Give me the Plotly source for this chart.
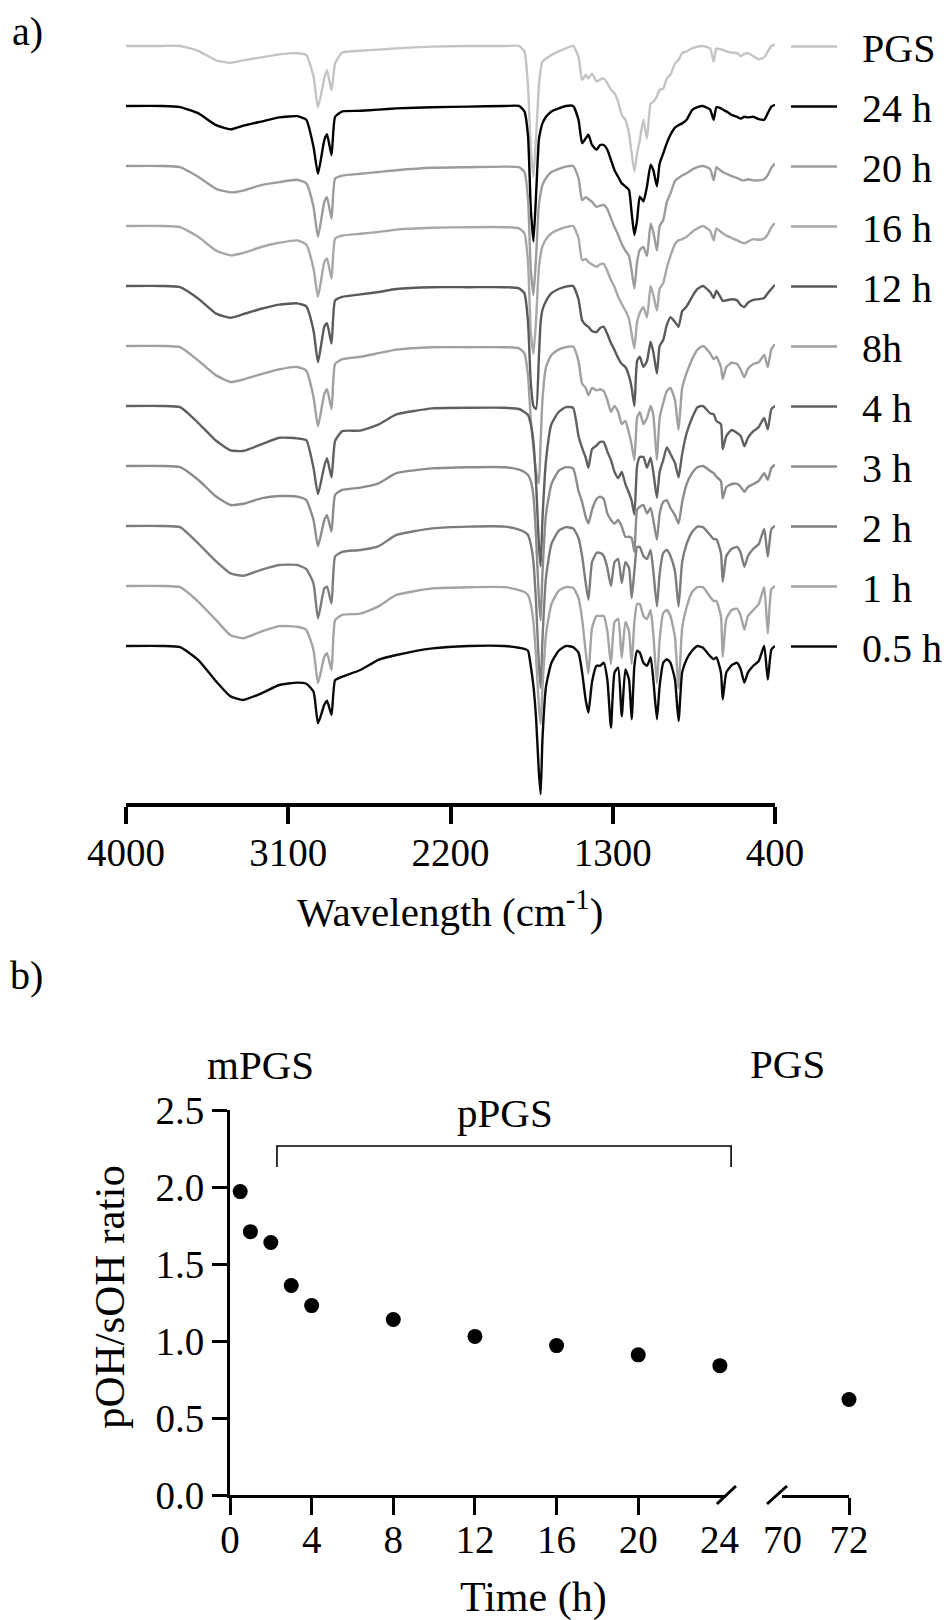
import plotly.graph_objects as go

W, H = 947, 1620
FONT = "Liberation Serif"

# ---------------- data: panel a (FTIR spectra, relative transmittance units) -------------
WAVENUMBER = [4000, 3800, 3700, 3600, 3500, 3420, 3350, 3250, 3150, 3050,
              3000, 2960, 2935, 2900, 2885, 2860, 2840, 2800, 2700, 2600,
              2500, 2300, 2100, 1900, 1820, 1790, 1770,
              1755, 1740, 1725, 1710, 1700, 1690, 1670, 1640, 1600, 1560,
              1520, 1490, 1470, 1450, 1435, 1415, 1390, 1370, 1350, 1330,
              1310, 1290, 1270, 1250, 1230, 1210, 1195, 1180, 1165, 1150,
              1130, 1110, 1090, 1075, 1055, 1040, 1020, 1000, 980, 955,
              935, 915, 890, 860, 830, 800, 760, 740, 725, 700,
              690, 670, 640, 610, 590, 570, 550, 520, 490, 460,
              440, 420, 400]

SAMPLES = ["PGS", "24 h", "20 h", "16 h", "12 h", "8h", "4 h", "3 h", "2 h", "1 h", "0.5 h"]

PGS = [0, 0, 0, -0.08, -0.24, -0.28, -0.24, -0.19, -0.14, -0.12,
       -0.15, -0.51, -1.02, -0.54, -0.40, -0.74, -0.29, -0.11, -0.08, -0.06,
       -0.04, -0.01, 0, 0, 0, -0.09, -0.68,
       -1.68, -2.18, -1.51, -0.68, -0.40, -0.26, -0.21, -0.15, -0.09, -0.04,
       0, -0.18, -0.57, -0.48, -0.54, -0.46, -0.59, -0.56, -0.54, -0.62,
       -0.73, -0.79, -0.93, -1.15, -1.23, -1.46, -1.79, -2.09, -1.79, -1.57,
       -1.23, -1.54, -0.96, -0.93, -0.84, -0.73, -0.71, -0.54, -0.48, -0.29,
       -0.23, -0.12, -0.09, -0.04, -0.01, 0, -0.04, -0.26, -0.04, -0.06,
       -0.06, -0.09, -0.11, -0.12, -0.17, -0.13, -0.12, -0.17, -0.22, -0.19,
       -0.09, 0, 0.02]
H24 = [0, 0, -0.02, -0.12, -0.32, -0.39, -0.33, -0.26, -0.19, -0.17,
       -0.23, -0.68, -1.13, -0.57, -0.47, -0.82, -0.18, -0.09, -0.08, -0.06,
       -0.04, -0.02, -0.01, 0, 0, -0.09, -0.50,
       -1.68, -2.26, -1.46, -0.57, -0.40, -0.29, -0.18, -0.09, -0.04, 0,
       0, -0.23, -0.62, -0.54, -0.48, -0.65, -0.73, -0.65, -0.65, -0.73,
       -0.90, -1.07, -1.18, -1.29, -1.34, -1.40, -1.79, -2.15, -1.90, -1.51,
       -1.59, -1.34, -0.98, -1.07, -1.34, -0.96, -0.79, -0.62, -0.48, -0.36,
       -0.32, -0.29, -0.23, -0.07, -0.02, 0, -0.06, -0.23, -0.02, -0.04,
       -0.06, -0.09, -0.15, -0.18, -0.21, -0.18, -0.19, -0.18, -0.22, -0.23,
       -0.12, -0.01, 0.02]
H20 = [0, 0, -0.02, -0.18, -0.38, -0.44, -0.41, -0.32, -0.27, -0.23,
       -0.29, -0.68, -1.18, -0.60, -0.52, -0.88, -0.21, -0.16, -0.13, -0.10,
       -0.07, -0.03, -0.02, -0.01, -0.02, -0.10, -0.55,
       -1.70, -2.15, -1.50, -0.65, -0.45, -0.32, -0.20, -0.10, -0.05, -0.01,
       0, -0.20, -0.57, -0.52, -0.55, -0.60, -0.68, -0.66, -0.65, -0.72,
       -0.87, -1.02, -1.15, -1.30, -1.41, -1.50, -1.75, -2.04, -1.60, -1.40,
       -1.35, -1.50, -0.96, -1.10, -1.41, -1.00, -0.90, -0.60, -0.46, -0.25,
       -0.20, -0.16, -0.12, -0.06, -0.02, 0, -0.05, -0.24, -0.02, -0.08,
       -0.10, -0.13, -0.17, -0.20, -0.23, -0.24, -0.22, -0.24, -0.24, -0.22,
       -0.15, -0.03, 0.04]
H16 = [0, 0, -0.02, -0.18, -0.41, -0.49, -0.45, -0.35, -0.28, -0.24,
       -0.31, -0.71, -1.18, -0.60, -0.54, -0.88, -0.21, -0.16, -0.13, -0.10,
       -0.06, -0.03, -0.02, -0.02, -0.04, -0.12, -0.60,
       -1.75, -2.13, -1.55, -0.70, -0.48, -0.34, -0.22, -0.12, -0.06, -0.02,
       0, -0.20, -0.57, -0.55, -0.60, -0.64, -0.68, -0.64, -0.63, -0.75,
       -0.90, -1.02, -1.18, -1.30, -1.41, -1.55, -1.80, -2.04, -1.60, -1.45,
       -1.35, -1.52, -1.00, -1.15, -1.41, -1.05, -0.95, -0.70, -0.50, -0.30,
       -0.24, -0.22, -0.18, -0.10, -0.04, 0, -0.08, -0.24, -0.04, -0.10,
       -0.12, -0.16, -0.20, -0.24, -0.27, -0.29, -0.26, -0.22, -0.23, -0.21,
       -0.14, -0.02, 0.05]
H12 = [0, 0, -0.02, -0.21, -0.46, -0.53, -0.47, -0.38, -0.31, -0.29,
       -0.34, -0.74, -1.27, -0.68, -0.62, -0.96, -0.24, -0.18, -0.14, -0.10,
       -0.05, -0.02, -0.02, -0.02, -0.04, -0.12, -0.60,
       -1.60, -2.00, -2.05, -1.20, -0.60, -0.40, -0.25, -0.12, -0.05, -0.01,
       0, -0.22, -0.57, -0.65, -0.68, -0.75, -0.77, -0.70, -0.68, -0.80,
       -0.95, -1.07, -1.20, -1.30, -1.35, -1.50, -1.70, -2.00, -1.25, -1.18,
       -1.35, -1.25, -0.93, -1.10, -1.46, -1.00, -0.90, -0.65, -0.52, -0.60,
       -0.68, -0.42, -0.34, -0.18, -0.05, 0, -0.10, -0.20, -0.08, -0.20,
       -0.25, -0.24, -0.22, -0.24, -0.32, -0.35, -0.28, -0.23, -0.22, -0.20,
       -0.12, -0.05, 0.02]
H8 = [0, 0, -0.02, -0.24, -0.49, -0.60, -0.56, -0.47, -0.39, -0.35,
      -0.41, -0.85, -1.34, -0.80, -0.72, -1.05, -0.30, -0.22, -0.18, -0.12,
      -0.06, -0.02, -0.02, -0.02, -0.04, -0.12, -0.50,
      -1.20, -1.70, -2.10, -2.29, -1.60, -0.90, -0.35, -0.15, -0.06, -0.02,
      -0.01, -0.25, -0.63, -0.70, -0.82, -0.70, -0.74, -0.72, -0.75, -0.90,
      -1.10, -1.00, -1.10, -1.30, -1.25, -1.45, -1.65, -1.90, -1.20, -1.10,
      -1.30, -1.20, -1.00, -1.15, -1.90, -1.20, -0.95, -0.75, -0.70, -0.90,
      -1.40, -0.70, -0.45, -0.22, -0.06, 0, -0.12, -0.22, -0.18, -0.35,
      -0.55, -0.35, -0.28, -0.30, -0.40, -0.52, -0.38, -0.30, -0.27, -0.15,
      -0.35, -0.05, 0.03]
H4 = [0, 0, -0.02, -0.28, -0.58, -0.74, -0.75, -0.64, -0.53, -0.54,
      -0.57, -1.03, -1.47, -1.00, -0.87, -1.19, -0.58, -0.42, -0.41, -0.31,
      -0.14, -0.04, -0.03, -0.03, -0.05, -0.10, -0.15,
      -0.30, -0.60, -1.30, -2.30, -2.67, -1.90, -0.90, -0.30, -0.10, -0.02,
      -0.03, -0.50, -0.70, -0.86, -1.03, -0.72, -0.66, -0.60, -0.60, -0.76,
      -0.90, -1.10, -1.20, -1.10, -1.30, -1.45, -1.58, -1.81, -1.00, -0.85,
      -0.85, -1.03, -0.86, -1.10, -1.53, -1.10, -0.90, -0.69, -0.80, -0.95,
      -1.19, -0.80, -0.45, -0.20, -0.02, 0, -0.12, -0.14, -0.25, -0.30,
      -0.72, -0.50, -0.40, -0.45, -0.50, -0.67, -0.53, -0.42, -0.35, -0.20,
      -0.39, -0.05, 0]
H3 = [0, 0, -0.02, -0.23, -0.51, -0.65, -0.63, -0.54, -0.50, -0.51,
      -0.57, -0.90, -1.34, -0.90, -0.82, -1.09, -0.48, -0.40, -0.36, -0.29,
      -0.12, -0.04, -0.02, -0.02, -0.06, -0.10, -0.15,
      -0.25, -0.50, -1.20, -2.20, -2.57, -1.80, -0.80, -0.30, -0.08, -0.02,
      -0.04, -0.42, -0.60, -0.85, -0.96, -0.73, -0.55, -0.51, -0.55, -0.79,
      -0.90, -0.96, -0.90, -1.01, -1.18, -1.18, -1.20, -1.43, -0.73, -0.68,
      -0.65, -0.79, -0.70, -0.90, -1.23, -0.80, -0.60, -0.57, -0.70, -0.82,
      -0.96, -0.60, -0.30, -0.12, -0.02, 0, -0.08, -0.12, -0.18, -0.25,
      -0.54, -0.35, -0.30, -0.30, -0.35, -0.43, -0.35, -0.30, -0.25, -0.12,
      -0.23, -0.03, 0.02]
H2 = [0, 0, -0.02, -0.29, -0.59, -0.79, -0.83, -0.73, -0.65, -0.65,
      -0.72, -0.96, -1.54, -1.04, -1.01, -1.29, -0.51, -0.43, -0.40, -0.34,
      -0.15, -0.04, -0.01, -0.01, -0.06, -0.10, -0.15,
      -0.30, -0.60, -1.30, -2.30, -2.70, -1.90, -0.85, -0.30, -0.08, -0.02,
      -0.04, -0.20, -0.50, -0.95, -1.23, -0.60, -0.45, -0.45, -0.50, -0.70,
      -1.00, -0.60, -0.55, -0.95, -0.60, -0.70, -1.20, -0.75, -0.35, -0.35,
      -0.50, -0.55, -0.40, -0.75, -1.34, -0.80, -0.45, -0.40, -0.50, -0.75,
      -1.34, -0.60, -0.30, -0.10, -0.01, -0.02, -0.15, -0.22, -0.22, -0.45,
      -0.93, -0.50, -0.38, -0.35, -0.45, -0.68, -0.50, -0.38, -0.30, -0.05,
      -0.51, -0.05, 0]
H1 = [0, 0, -0.02, -0.26, -0.57, -0.82, -0.87, -0.76, -0.67, -0.68,
      -0.73, -1.07, -1.62, -1.18, -1.12, -1.40, -0.57, -0.48, -0.46, -0.34,
      -0.15, -0.04, -0.02, -0.02, -0.07, -0.10, -0.15,
      -0.30, -0.60, -1.20, -2.00, -2.30, -1.70, -0.80, -0.30, -0.08, -0.02,
      -0.03, -0.20, -0.55, -1.10, -1.46, -0.70, -0.50, -0.50, -0.50, -0.75,
      -1.30, -0.60, -0.55, -1.20, -0.60, -0.75, -1.30, -0.60, -0.30, -0.30,
      -0.50, -0.55, -0.40, -0.80, -1.62, -0.90, -0.45, -0.40, -0.50, -0.85,
      -1.71, -0.70, -0.35, -0.10, -0.02, -0.02, -0.18, -0.25, -0.25, -0.50,
      -1.18, -0.55, -0.40, -0.38, -0.50, -0.73, -0.50, -0.40, -0.30, -0.02,
      -0.79, -0.05, 0]
H05 = [0, 0, -0.02, -0.23, -0.59, -0.84, -0.90, -0.79, -0.65, -0.61,
       -0.63, -0.76, -1.29, -0.98, -0.91, -1.15, -0.57, -0.51, -0.40, -0.23,
       -0.15, -0.04, 0, 0, -0.03, -0.05, -0.08,
       -0.33, -0.67, -1.22, -2.10, -2.47, -1.56, -0.67, -0.28, -0.08, 0,
       -0.02, -0.11, -0.44, -0.90, -1.11, -0.60, -0.33, -0.33, -0.28, -0.56,
       -1.36, -0.44, -0.36, -1.17, -0.39, -0.56, -1.22, -0.33, -0.08, -0.11,
       -0.28, -0.33, -0.19, -0.56, -1.22, -0.67, -0.28, -0.22, -0.28, -0.56,
       -1.25, -0.44, -0.22, -0.08, 0, -0.03, -0.17, -0.22, -0.19, -0.44,
       -0.89, -0.44, -0.32, -0.28, -0.39, -0.61, -0.44, -0.33, -0.25, 0,
       -0.56, -0.06, 0]

SPECTRA = [PGS, H24, H20, H16, H12, H8, H4, H3, H2, H1, H05]
COLORS = ["#c4c4c4", "#000000", "#9c9c9c", "#a8a8a8", "#5a5a5a", "#a0a0a0",
          "#606060", "#8c8c8c", "#7c7c7c", "#a4a4a4", "#0a0a0a"]

# ---------------- data: panel b ----------------
TIME_H = [0.5, 1, 2, 3, 4, 8, 12, 16, 20, 24]
RATIO = [1.97, 1.71, 1.64, 1.36, 1.23, 1.14, 1.03, 0.97, 0.91, 0.84]
TIME_PGS = [72]
RATIO_PGS = [0.62]
X1_TICKS = [0, 4, 8, 12, 16, 20]
Y_TICKS = [0, 0.5, 1.0, 1.5, 2.0, 2.5]
WN_TICKS = [4000, 3100, 2200, 1300, 400]

for s in SPECTRA:
    assert len(s) == len(WAVENUMBER)


def px(x):
    return x / W


def py(y):
    return 1 - y / H


fig = go.Figure()

NBSP = "\u00a0"
n = len(SAMPLES)
for i, (name, vals, col) in enumerate(zip(SAMPLES, SPECTRA, COLORS)):
    off = n - 1 - i
    fig.add_trace(go.Scatter(
        x=WAVENUMBER, y=[v + off for v in vals], mode="lines",
        line=dict(color=col, width=2.4, shape="spline", smoothing=0.5),
        name=NBSP * 2 + name, legendgroup=name, showlegend=True,
        xaxis="x", yaxis="y", hoverinfo="skip"))

fig.add_trace(go.Scatter(x=TIME_H, y=RATIO, mode="markers",
                         marker=dict(color="black", size=15),
                         xaxis="x2", yaxis="y2", showlegend=False, cliponaxis=False))
fig.add_trace(go.Scatter(x=TIME_PGS, y=RATIO_PGS, mode="markers",
                         marker=dict(color="black", size=15),
                         xaxis="x3", yaxis="y2", showlegend=False, cliponaxis=False))

# axis geometry
XA_DOM = [px(126), px(775)]
YA_DOM = [py(802.7), py(20)]
X2_DOM = [px(230), px(726)]
X2_RANGE = [0, 24.3]
X3_DOM = [px(782), px(849)]
X3_RANGE = [70, 72]
Y2_DOM = [py(1495), py(1110)]
Y2_RANGE = [0, 2.5]

tickfont = dict(family=FONT, size=39, color="black")

fig.update_layout(
    template=None,
    width=W, height=H,
    margin=dict(l=0, r=0, t=0, b=0, autoexpand=False),
    paper_bgcolor="white", plot_bgcolor="white",
    font=dict(family=FONT, size=39, color="black"),
    showlegend=True,
    legend=dict(xref="container", yref="container",
                x=px(786), xanchor="left", y=py(14), yanchor="top",
                font=dict(family=FONT, size=40, color="black"),
                traceorder="grouped", tracegroupgap=5, itemwidth=46,
                bgcolor="rgba(0,0,0,0)", borderwidth=0),
    xaxis=dict(domain=XA_DOM, range=[4000, 400], anchor="y", automargin=False,
               tickvals=WN_TICKS, ticktext=[str(v) for v in WN_TICKS],
               ticks="outside", ticklen=17, tickwidth=4, tickcolor="black",
               ticklabelstandoff=-5,
               showline=True, linewidth=4, linecolor="black",
               showgrid=False, zeroline=False, tickfont=tickfont),
    yaxis=dict(domain=YA_DOM, range=[-2.612, 10.433], anchor="x", visible=False,
               automargin=False),
    xaxis2=dict(domain=X2_DOM, range=X2_RANGE, anchor="y2", automargin=False,
                tickvals=X1_TICKS, ticktext=[str(v) for v in X1_TICKS],
                ticks="outside", ticklen=17, tickwidth=3, tickcolor="black",
                ticklabelstandoff=-9,
                showline=True, linewidth=3, linecolor="black",
                showgrid=False, zeroline=False, tickfont=tickfont),
    xaxis3=dict(domain=X3_DOM, range=X3_RANGE, anchor="y2", automargin=False,
                tickvals=[72], ticktext=["72"],
                ticks="outside", ticklen=17, tickwidth=3, tickcolor="black",
                ticklabelstandoff=-9,
                showline=True, linewidth=3, linecolor="black",
                showgrid=False, zeroline=False, tickfont=tickfont),
    yaxis2=dict(domain=Y2_DOM, range=Y2_RANGE, anchor="x2", automargin=False,
                tickvals=Y_TICKS, ticktext=["%.1f" % v for v in Y_TICKS],
                ticks="outside", ticklen=15, tickwidth=3, tickcolor="black",
                showline=True, linewidth=3, linecolor="black",
                showgrid=False, zeroline=False, tickfont=tickfont),
)


def to_paper_x(v, dom, rng):
    return dom[0] + (v - rng[0]) / (rng[1] - rng[0]) * (dom[1] - dom[0])


def to_paper_y(v, dom, rng):
    return dom[0] + (v - rng[0]) / (rng[1] - rng[0]) * (dom[1] - dom[0])


ann = []


def text(t, x, y, size=41, angle=0):
    ann.append(dict(text=t, x=x, y=y, xref="paper", yref="paper",
                    xanchor="center", yanchor="middle", showarrow=False,
                    textangle=angle, font=dict(family=FONT, size=size, color="black")))


text("a)", px(27), py(32), 40)
text("b)", px(26), py(975), 40)
text("Wavelength (cm<sup>-1</sup>)", px(450), py(909), 41)
text("Time (h)", px(533), py(1597), 42)
text("pOH/sOH ratio", px(109), py(1297), 43, -90)
text("mPGS", px(260), py(1065), 41)
text("pPGS", px(505), py(1113), 41)
text("PGS", px(787), py(1064), 41)
# labels at the broken-axis ends
text("24", to_paper_x(24, X2_DOM, X2_RANGE), py(1539), 39)
text("70", to_paper_x(70, X3_DOM, X3_RANGE), py(1539), 39)
fig.update_layout(annotations=ann)

shapes = []
# axis-break slashes
y0p = to_paper_y(0, Y2_DOM, Y2_RANGE)
for xa, x0, x1 in [(to_paper_x(24, X2_DOM, X2_RANGE), -3, 16),
                   (to_paper_x(70, X3_DOM, X3_RANGE), -15, 5)]:
    shapes.append(dict(type="line", xref="paper", yref="paper",
                       xsizemode="pixel", ysizemode="pixel",
                       xanchor=xa, yanchor=y0p, x0=x0, x1=x1, y0=-9, y1=9,
                       line=dict(color="black", width=3)))
# pPGS bracket
bx0 = to_paper_x(2.3, X2_DOM, X2_RANGE)
bx1 = to_paper_x(24.55, X2_DOM, X2_RANGE)
byt = to_paper_y(2.266, Y2_DOM, Y2_RANGE)
byb = to_paper_y(2.13, Y2_DOM, Y2_RANGE)
shapes.append(dict(type="path", xref="paper", yref="paper",
                   path=f"M {bx0},{byb} L {bx0},{byt} L {bx1},{byt} L {bx1},{byb}",
                   line=dict(color="black", width=1.6)))
fig.update_layout(shapes=shapes)

fig.write_html("out.html")
